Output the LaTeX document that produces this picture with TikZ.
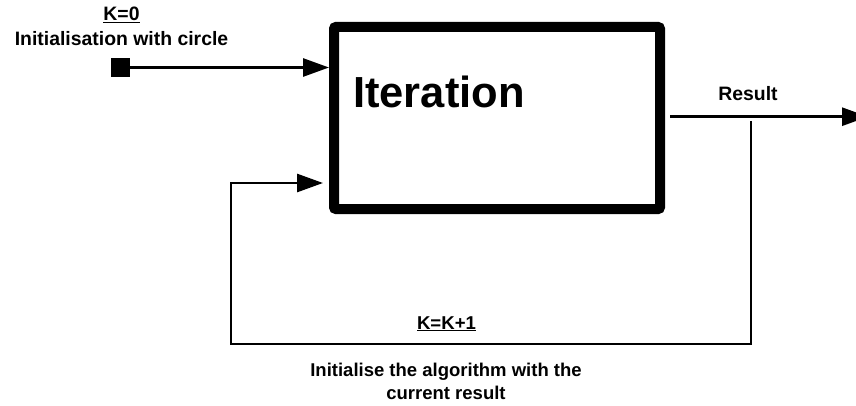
\documentclass[tikz,border=0pt]{standalone}
\usepackage{fontspec}
\setmainfont{Liberation Sans}
\usetikzlibrary{arrows.meta}
\tikzset{
  conn/.style={line width=2.8pt, -{Triangle[length=26pt,width=18pt]}},
  lbl/.style={inner sep=0pt, font=\bfseries\fontsize{19.4}{22.3}\selectfont, align=center},
  lblb/.style={inner sep=0pt, font=\bfseries\fontsize{18.5}{22.3}\selectfont, align=center},
}
\begin{document}
\begin{tikzpicture}[x=1pt,y=-1pt]
\clip (0,0) rectangle (856,406);
\fill[white] (0,0) rectangle (856,406);
% main box
\node[draw, line width=10pt, rounded corners=2pt, minimum width=326pt, minimum height=182pt, inner sep=0pt] (box) at (497,118) {};
\node[inner sep=0pt, anchor=base west, font=\bfseries\fontsize{43.5}{50}\selectfont] (iter) at (353,107.5) {Iteration};
% input square
\node[fill=black, minimum size=19pt, inner sep=0pt] (sq) at (120.5,67.5) {};
\draw[conn] (sq.east) -- (box.west |- sq.center);
% labels top-left
\node[lbl, anchor=base] (k0) at (121.5,20.7) {\underline{K=0}};
\node[lbl, anchor=base] (init) at (121.5,45.7) {Initialisation with circle};
% result
\coordinate (resend) at (868,116.7);
\draw[conn, shorten <=5pt] (box.east |- resend) -- (resend);
\node[lbl, anchor=base] (res) at (748,101) {Result};
% feedback loop
\coordinate (tap) at (751,121);
\coordinate (br) at (751,344);
\coordinate (bl) at (231,344);
\coordinate (fbin) at (329,183);
\draw[conn, shorten >=6pt] (tap) -- (br) -- (bl) |- (fbin);
\node[lbl, anchor=base, font=\bfseries\fontsize{18.6}{22.3}\selectfont] (kk) at (446.5,329) {\underline{K=K+1}};
\node[lblb, anchor=base] (bottom) at (446,399) {Initialise the algorithm with the\\current result};
\end{tikzpicture}
\end{document}
